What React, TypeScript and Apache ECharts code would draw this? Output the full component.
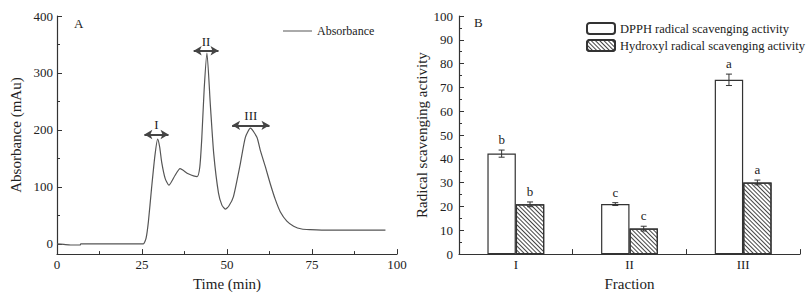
import React, { useEffect, useRef } from "react";
import * as echarts from "echarts";

// ---- Panel A: chromatogram ----
const absorbanceCurve: [number, number][] = [
  [0, 0], [2, -1], [4, -2], [6, -2], [6.8, -2], [7, 0], [10, 0], [15, 0], [20, 0], [24, 0],
  [25.4, 0], [26.2, 10], [26.9, 40], [27.8, 97], [28.8, 155], [29.6, 184], [30.2, 170],
  [30.8, 143], [31.8, 115], [32.9, 103], [34.7, 120], [36.2, 132], [38.6, 123], [41.2, 118],
  [42, 135], [42.6, 187], [43.3, 273], [44.1, 335], [45.1, 244], [46.1, 158], [47.5, 89],
  [48.5, 68], [49.5, 61], [50.5, 66], [51.9, 83], [53.9, 140], [55.4, 187], [56.9, 203],
  [58.8, 187], [59.8, 164], [61.3, 135], [62.7, 106], [64.2, 78], [65.7, 56], [67.6, 40],
  [69.6, 31], [72, 26], [74.5, 25], [80, 24], [90, 24], [96.6, 24],
];
const fractionRanges = [
  { name: "I", from: 25.7, to: 32.8, y: 192 },
  { name: "II", from: 40.2, to: 47.5, y: 339 },
  { name: "III", from: 51.5, to: 62.5, y: 208 },
];
const timeTicks = [0, 25, 50, 75, 100];

// ---- Panel B: radical scavenging ----
const fractions = ["I", "II", "III"];
const dpphValues = [42.2, 21.0, 73.2];
const dpphErrors = [1.5, 0.6, 2.4];
const dpphLetters = ["b", "c", "a"];
const hydroxylValues = [20.9, 10.7, 30.1];
const hydroxylErrors = [1.0, 1.0, 1.0];
const hydroxylLetters = ["b", "c", "a"];

const FONT = "'Liberation Serif', 'Times New Roman', serif";
const AXIS = "#333";
const TEXT = "#222";

function errorSeries(name: string, values: number[], errs: number[], letters: string[], offsetFrac: number) {
  return {
    type: "custom",
    name: name + "-err",
    xAxisIndex: 1,
    yAxisIndex: 1,
    z: 10,
    silent: true,
    color: TEXT,
    itemStyle: { color: TEXT },
    data: values.map((v, i) => [i, v, errs[i]]),
    renderItem: (params: any, api: any) => {
      const ci = api.value(0);
      const v = api.value(1);
      const e = api.value(2);
      const band = api.size([1, 0])[0];
      const top = api.coord([ci, v + e]);
      const bot = api.coord([ci, v - e]);
      const x = top[0] + offsetFrac * band;
      const cap = 3;
      const st = { stroke: "#333", lineWidth: 1 };
      return {
        type: "group",
        children: [
          { type: "line", shape: { x1: x, y1: top[1], x2: x, y2: bot[1] }, style: st },
          { type: "line", shape: { x1: x - cap, y1: top[1], x2: x + cap, y2: top[1] }, style: st },
          { type: "line", shape: { x1: x - cap, y1: bot[1], x2: x + cap, y2: bot[1] }, style: st },
          {
            type: "text",
            x,
            y: top[1] - 4,
            style: {
              text: letters[params.dataIndex],
              align: "center",
              verticalAlign: "bottom",
              fontFamily: FONT,
              fontSize: 13,
              fill: TEXT,
              textFill: TEXT,
              stroke: "none",
            },
          },
        ],
      };
    },
  };
}

export default function App() {
  const ref = useRef<HTMLDivElement>(null);
  useEffect(() => {
    document.body.style.margin = "0";
    const chart = echarts.init(ref.current!, null, { renderer: "svg" });
    const axisCommon = {
      axisLine: { show: true, lineStyle: { color: AXIS, width: 1.2 } },
      axisTick: { show: true, inside: true, length: 5, lineStyle: { color: AXIS } },
      minorTick: { show: true, splitNumber: 2, length: 3, lineStyle: { color: AXIS } },
      splitLine: { show: false },
      axisLabel: { color: TEXT, fontFamily: FONT, fontSize: 13 },
      nameTextStyle: { color: TEXT, fontFamily: FONT, fontSize: 15 },
    };
    chart.setOption({
      animation: false,
      backgroundColor: "#fff",
      textStyle: { fontFamily: FONT },
      title: [
        { text: "A", left: 69, top: 12, textStyle: { fontFamily: FONT, fontSize: 13, fontWeight: "normal", color: TEXT } },
        { text: "B", left: 469, top: 11, textStyle: { fontFamily: FONT, fontSize: 13, fontWeight: "normal", color: TEXT } },
      ],
      legend: [
        {
          left: 278,
          top: 20,
          itemWidth: 29,
          itemHeight: 1,
          data: [{ name: "Absorbance", icon: "rect" }],
          textStyle: { fontFamily: FONT, fontSize: 12, color: TEXT },
        },
        {
          left: 581,
          top: 17,
          orient: "vertical",
          itemWidth: 28,
          itemHeight: 11,
          itemGap: 4,
          data: ["DPPH radical scavenging activity", "Hydroxyl radical scavenging activity"],
          textStyle: { fontFamily: FONT, fontSize: 12.5, color: TEXT },
        },
      ],
      grid: [
        { left: 57, top: 16, width: 340, height: 242 },
        { left: 459, top: 16, width: 341, height: 243 },
      ],
      xAxis: [
        {
          ...axisCommon,
          gridIndex: 0,
          type: "value",
          min: timeTicks[0],
          max: timeTicks[timeTicks.length - 1],
          interval: 25,
          name: "Time (min)",
          nameLocation: "middle",
          nameGap: 19,
          axisLine: { ...axisCommon.axisLine, onZero: false },
          axisLabel: { ...axisCommon.axisLabel, margin: 4 },
        },
        {
          ...axisCommon,
          gridIndex: 1,
          type: "category",
          data: fractions,
          name: "Fraction",
          nameLocation: "middle",
          nameGap: 18,
          minorTick: { show: false },
          axisLabel: { ...axisCommon.axisLabel, margin: 4 },
        },
      ],
      yAxis: [
        {
          ...axisCommon,
          gridIndex: 0,
          type: "value",
          min: -18,
          max: 400,
          splitNumber: 4,
          name: "Absorbance (mAu)",
          nameLocation: "middle",
          nameGap: 34,
          axisLabel: {
            ...axisCommon.axisLabel,
            margin: 4,
            formatter: (v: number) => (v % 100 === 0 ? String(v) : ""),
          },
        },
        {
          ...axisCommon,
          gridIndex: 1,
          type: "value",
          min: 0,
          max: 100,
          interval: 10,
          name: "Radical scavenging activity",
          nameLocation: "middle",
          nameGap: 28,
          axisLabel: { ...axisCommon.axisLabel, margin: 6 },
        },
      ],
      series: [
        {
          type: "line",
          name: "Absorbance",
          xAxisIndex: 0,
          yAxisIndex: 0,
          data: absorbanceCurve,
          showSymbol: false,
          smooth: 0.2,
          itemStyle: { color: "#555" },
          lineStyle: { color: "#555", width: 1.2 },
          markLine: {
            silent: true,
            symbol: ["arrow", "arrow"],
            symbolSize: [7, 8],
            lineStyle: { color: "#444", width: 2, type: "solid" },
            label: {
              show: true,
              position: "middle",
              distance: 3,
              fontFamily: FONT,
              fontSize: 13,
              color: TEXT,
              formatter: (p: any) => p.name,
            },
            data: fractionRanges.map((r) => [
              { name: r.name, coord: [r.from, r.y] },
              { coord: [r.to, r.y] },
            ]),
          },
        },
        {
          type: "bar",
          name: "DPPH radical scavenging activity",
          xAxisIndex: 1,
          yAxisIndex: 1,
          data: dpphValues,
          barWidth: "25%",
          barGap: "0%",
          itemStyle: { color: "#fff", borderColor: "#333", borderWidth: 1.2 },
        },
        {
          type: "bar",
          name: "Hydroxyl radical scavenging activity",
          xAxisIndex: 1,
          yAxisIndex: 1,
          data: hydroxylValues,
          barWidth: "25%",
          barGap: "0%",
          itemStyle: {
            color: "#fff",
            borderColor: "#333",
            borderWidth: 1.2,
            decal: {
              symbol: "rect",
              symbolSize: 1,
              color: "#444",
              dashArrayX: [1, 0],
              dashArrayY: [1, 2],
              rotation: Math.PI / 4,
            },
          },
        },
        errorSeries("dpph", dpphValues, dpphErrors, dpphLetters, -0.125),
        errorSeries("hydroxyl", hydroxylValues, hydroxylErrors, hydroxylLetters, 0.125),
      ],
    });
    return () => chart.dispose();
  }, []);
  return <div ref={ref} style={{ width: 809, height: 296 }} />;
}
